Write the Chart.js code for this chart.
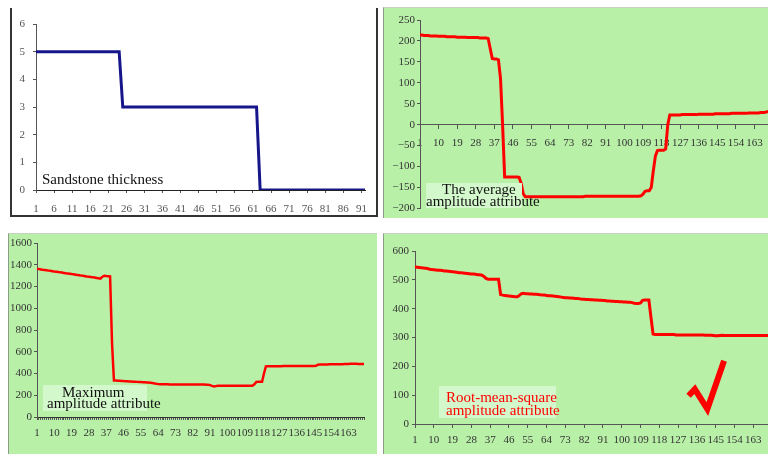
<!DOCTYPE html>
<html lang="en">
<head>
    <meta charset="UTF-8">
    <title>Seismic attributes vs sandstone thickness</title>
    <script src="https://cdn.jsdelivr.net/npm/chart.js"></script>
    <style>
        html, body {
            margin: 0;
            width: 768px;
            height: 454px;
            overflow: hidden;
            background: white;
            font-family: 'Liberation Serif', serif;
        }

        .panel {
            position: absolute;
        }

        .panel.white {
            background: white;
            border-left: 2px solid #333;
            border-right: 2px solid #333;
            border-bottom: 2px solid #333;
        }

        .panel.green {
            background: #b9f0a8;
            border-left: 1px solid #8c9c88;
            border-top: 1px solid #c8d0c4;
        }

        canvas {
            position: absolute;
        }

        .tag-box {
            position: absolute;
            background: #d3f8cb;
        }

        .tag {
            position: absolute;
            font-size: 15px;
            line-height: 15px;
            white-space: nowrap;
            color: #111;
        }

        .tag.red {
            color: #ff0000;
        }
    </style>
</head>
<body>
    <div class="panel white" style="left:10px; top:8px; width:364px; height:207px;"></div>
    <div class="panel green" style="left:383px; top:7px; width:385px; height:210px;"></div>
    <div class="panel green" style="left:8px; top:233px; width:368px; height:221px;"></div>
    <div class="panel green" style="left:383px; top:233px; width:385px; height:221px;"></div>

    <canvas id="thickChart" width="364" height="208" style="left:12px; top:8px;"></canvas>
    <canvas id="avgChart" width="400" height="210" style="left:384px; top:7px;"></canvas>
    <canvas id="maxChart" width="367" height="221" style="left:9px; top:233px;"></canvas>
    <canvas id="rmsChart" width="400" height="221" style="left:384px; top:233px;"></canvas>

    <div class="tag" style="left:42px; top:172px;">Sandstone thickness</div>

    <div class="tag-box" style="left:426px; top:183px; width:96px; height:25px;"></div>
    <div class="tag" style="left:442px; top:182px;">The average</div>
    <div class="tag" style="left:426px; top:194px;">amplitude attribute</div>

    <div class="tag-box" style="left:43px; top:385px; width:104px; height:26px;"></div>
    <div class="tag" style="left:62px; top:385px;">Maximum</div>
    <div class="tag" style="left:47px; top:396px;">amplitude attribute</div>

    <div class="tag-box" style="left:439px; top:386px; width:117px; height:32px;"></div>
    <div class="tag red" style="left:446px; top:390px;">Root-mean-square</div>
    <div class="tag red" style="left:446px; top:403px;">amplitude attribute</div>

    <script>
        // sample numbers along the profile
        const THICK_CATS = Array.from({ length: 92 }, (_, i) => String(i + 1));
        const ATTR_CATS = Array.from({ length: 171 }, (_, i) => String(i + 1));

        // sandstone thickness (m)
        const THICK = [
            5, 5, 5, 5, 5, 5, 5, 5, 5, 5,
            5, 5, 5, 5, 5, 5, 5, 5, 5, 5,
            5, 5, 5, 5, 3, 3, 3, 3, 3, 3,
            3, 3, 3, 3, 3, 3, 3, 3, 3, 3,
            3, 3, 3, 3, 3, 3, 3, 3, 3, 3,
            3, 3, 3, 3, 3, 3, 3, 3, 3, 3,
            3, 3, 0, 0, 0, 0, 0, 0, 0, 0,
            0, 0, 0, 0, 0, 0, 0, 0, 0, 0,
            0, 0, 0, 0, 0, 0, 0, 0, 0, 0,
            0, 0
        ];

        // average amplitude attribute
        const AVG = [
            214, 214, 213, 213, 213, 212, 212, 212, 212, 211,
            211, 211, 211, 210, 210, 210, 210, 210, 209, 209,
            209, 209, 209, 208, 208, 208, 208, 208, 208, 207,
            207, 207, 207, 206, 182, 158, 157, 157, 155, 110,
            0, -125, -125, -125, -125, -125, -125, -125, -126, -140,
            -165, -172, -172, -172, -172, -172, -172, -172, -172, -172,
            -172, -172, -172, -172, -172, -172, -172, -172, -172, -172,
            -172, -172, -172, -172, -172, -172, -172, -172, -172, -172,
            -171, -171, -171, -171, -171, -171, -171, -171, -171, -171,
            -171, -171, -171, -171, -171, -171, -171, -171, -171, -171,
            -171, -171, -171, -171, -171, -171, -171, -170, -166, -159,
            -158, -158, -150, -110, -75, -62, -61, -61, -61, -58,
            0, 23, 23, 23, 23, 23, 23, 24, 24, 24,
            24, 24, 24, 24, 24, 25, 25, 25, 25, 25,
            25, 25, 25, 26, 26, 26, 26, 26, 26, 26,
            26, 27, 27, 27, 27, 27, 27, 27, 27, 28,
            28, 28, 28, 28, 28, 29, 29, 29, 31, 31, 31
        ];

        // maximum amplitude attribute
        const MAX = [
            1362, 1360, 1357, 1354, 1352, 1349, 1346, 1344, 1341, 1338,
            1336, 1333, 1330, 1328, 1325, 1322, 1320, 1317, 1314, 1312,
            1309, 1306, 1303, 1300, 1298, 1295, 1292, 1290, 1287, 1284,
            1282, 1279, 1276, 1272, 1290, 1298, 1296, 1295, 1293, 680,
            336, 335, 334, 333, 332, 330, 329, 328, 327, 326,
            325, 324, 323, 322, 321, 320, 319, 318, 317, 315,
            312, 309, 305, 303, 302, 302, 301, 301, 301, 300,
            300, 300, 300, 300, 300, 300, 300, 300, 299, 299,
            299, 299, 299, 299, 299, 299, 298, 298, 297, 296,
            293, 286, 281, 284, 287, 287, 287, 287, 287, 287,
            287, 287, 287, 287, 287, 287, 287, 287, 287, 287,
            287, 287, 287, 300, 322, 324, 324, 324, 400, 466,
            467, 467, 467, 467, 467, 467, 467, 467, 468, 468,
            468, 468, 468, 468, 468, 469, 469, 470, 470, 470,
            470, 470, 470, 470, 470, 471, 480, 482, 482, 483,
            483, 483, 484, 484, 484, 485, 485, 485, 486, 486,
            487, 488, 488, 489, 489, 489, 489, 488, 488, 487, 487
        ];

        // root-mean-square amplitude attribute
        const RMS = [
            545, 544, 543, 542, 541, 540, 539, 537, 536, 535,
            534, 533, 533, 532, 531, 531, 530, 529, 528, 527,
            526, 525, 525, 524, 523, 522, 521, 520, 520, 519,
            518, 518, 516, 512, 505, 502, 502, 502, 502, 502,
            502, 449, 447, 446, 445, 444, 443, 442, 441, 441,
            446, 452, 453, 452, 452, 451, 451, 450, 450, 449,
            448, 447, 447, 446, 445, 445, 444, 443, 442, 441,
            440, 439, 438, 438, 437, 437, 436, 435, 435, 434,
            433, 433, 432, 432, 431, 431, 430, 430, 429, 429,
            428, 428, 427, 427, 426, 426, 425, 425, 424, 424,
            423, 423, 422, 422, 421, 419, 418, 418, 420, 429,
            430, 430, 430, 370, 312, 310, 310, 310, 310, 310,
            310, 310, 310, 310, 310, 309, 309, 309, 309, 309,
            309, 309, 309, 309, 309, 309, 309, 309, 309, 308,
            308, 308, 308, 307, 306, 306, 307, 308, 307, 307,
            307, 307, 307, 307, 307, 307, 307, 307, 307, 307,
            307, 307, 307, 307, 307, 307, 307, 307, 307, 307, 307
        ];

        // hand-drawn tick mark on the RMS panel (sample no., value)
        const CHECK_X = ['132', '135', '141', '149'];
        const CHECK_Y = [98, 121, 52, 219];

        const TICK_FONT = { family: 'Liberation Serif', size: 11 };
        const AXIS_COLOR = '#555';

        function xAxis(labels, every, o) {
            return {
                type: 'category',
                offset: false,
                position: o.position || 'bottom',
                grid: {
                    drawOnChartArea: false,
                    tickLength: o.tickLength,
                    color: AXIS_COLOR,
                    tickColor: ctx => (o.dense || ctx.index % every === 0) ? AXIS_COLOR : 'rgba(0,0,0,0)'
                },
                border: { color: o.lineColor || AXIS_COLOR, width: 1 },
                ticks: {
                    autoSkip: false,
                    maxRotation: 0,
                    minRotation: 0,
                    padding: o.padding,
                    color: o.textColor || '#333',
                    font: TICK_FONT,
                    callback: (v, i) => i % every === 0 ? labels[i] : ''
                },
                afterFit: s => { if (o.height) s.height = o.height; }
            };
        }

        function yAxis(min, max, step, o) {
            return {
                min: min,
                max: max,
                grid: { drawOnChartArea: false, tickLength: 3, color: AXIS_COLOR },
                border: { color: AXIS_COLOR, width: 1 },
                ticks: {
                    stepSize: step,
                    padding: o.padding,
                    color: o.textColor || '#333',
                    font: TICK_FONT,
                    callback: v => String(v).replace('-', '\u2212')
                },
                afterFit: s => { s.width = o.width; }
            };
        }

        function lineChart(id, labels, datasets, padding, scales) {
            return new Chart(document.getElementById(id), {
                type: 'line',
                data: { labels: labels, datasets: datasets },
                options: {
                    responsive: false,
                    animation: false,
                    layout: { padding: padding },
                    plugins: { legend: { display: false }, tooltip: { enabled: false } },
                    elements: { point: { radius: 0 }, line: { tension: 0 } },
                    scales: scales
                }
            });
        }

        lineChart('thickChart', THICK_CATS,
            [{ data: THICK, borderColor: '#16168a', borderWidth: 3, fill: false }],
            { top: 16, right: 11, bottom: 0, left: 0 },
            {
                x: xAxis(THICK_CATS, 5, { tickLength: 3, padding: 10, height: 26, lineColor: '#222', textColor: '#555' }),
                y: yAxis(0, 6, 1, { width: 24, padding: 8, textColor: '#555' })
            });

        lineChart('avgChart', ATTR_CATS,
            [{ data: AVG, borderColor: '#ff0000', borderWidth: 3, fill: false }],
            { top: 13, right: 13, bottom: 5, left: 0 },
            {
                x: xAxis(ATTR_CATS, 9, { position: { y: 0 }, tickLength: 4, padding: 8 }),
                y: yAxis(-200, 250, 50, { width: 36, padding: 2 })
            });

        lineChart('maxChart', ATTR_CATS,
            [{ data: MAX, borderColor: '#ff0000', borderWidth: 2.5, fill: false }],
            { top: 10, right: 12, bottom: 0, left: 0 },
            {
                x: xAxis(ATTR_CATS, 9, { tickLength: 3, padding: 7, height: 37, dense: true, lineColor: '#333' }),
                y: yAxis(0, 1600, 200, { width: 28, padding: 2 })
            });

        lineChart('rmsChart', ATTR_CATS,
            [
                { data: RMS, borderColor: '#ff0000', borderWidth: 3, fill: false },
                {
                    data: CHECK_X.map((x, k) => ({ x: x, y: CHECK_Y[k] })),
                    borderColor: '#ff0000',
                    borderWidth: 6,
                    borderJoinStyle: 'miter',
                    fill: false
                }
            ],
            { top: 18, right: 14, bottom: 0, left: 0 },
            {
                x: xAxis(ATTR_CATS, 9, { tickLength: 4, padding: 6, height: 30 }),
                y: yAxis(0, 600, 100, { width: 31, padding: 3 })
            });
    </script>
</body>
</html>
